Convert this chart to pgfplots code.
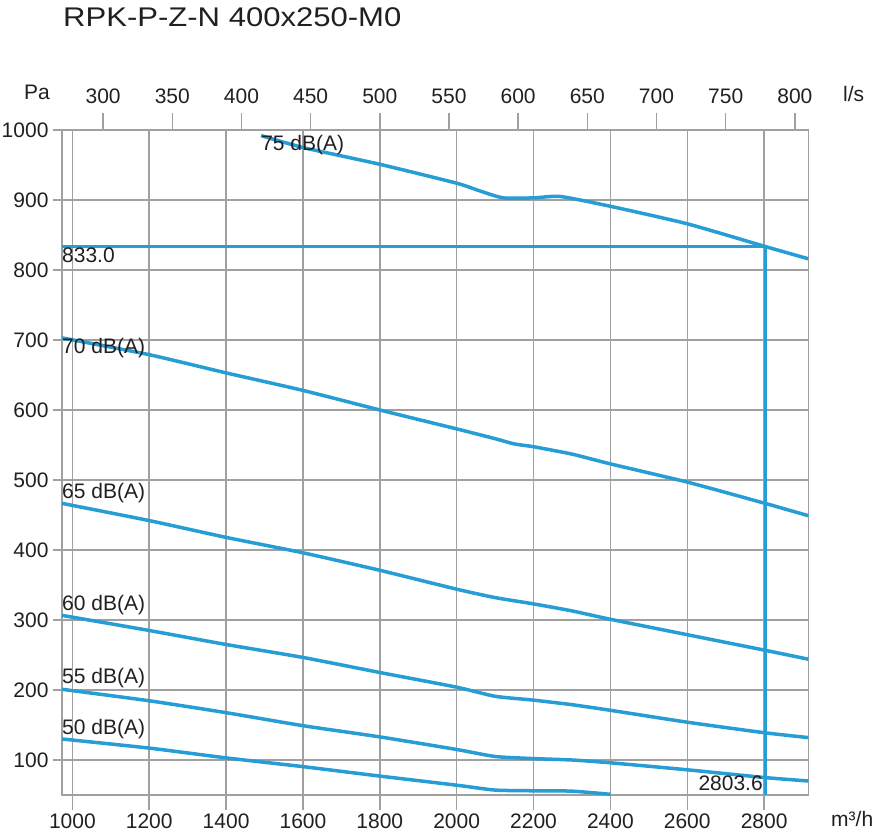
\documentclass[border=0pt]{standalone}
\usepackage{fontspec}
\setmainfont{Liberation Sans}
\usepackage{pgfplots}
\pgfplotsset{compat=1.18}
\definecolor{curve}{RGB}{38,157,212}
\definecolor{gridc}{RGB}{160,160,160}
\definecolor{txt}{RGB}{35,31,32}
\newcommand{\tf}{\fontsize{21}{24}\selectfont}
\tikzset{dbcurve/.style={curve, line width=3.5pt, smooth, tension=0.35, no markers}}
\begin{document}
\begin{tikzpicture}
\path[use as bounding box] (0,0) rectangle (879pt,834pt);
% top axis (l/s)
\begin{axis}[
  at={(62pt,39pt)}, anchor=south west,
  scale only axis, width=746.3pt, height=665pt,
  xmin=270.28, xmax=809.72, ymin=0, ymax=1,
  axis x line*=top, axis y line=none, ytick=\empty,
  xtick={300,350,...,800},
  tick align=outside, major tick length=17pt,
  tick style={gridc, line width=1.5pt},
  axis line style={draw=none},
  ticklabel style={font=\tf, text=txt},
  xticklabel style={yshift=6pt},
  /pgf/number format/assume math mode=true,
  /pgf/number format/1000 sep={},
]
\addplot[draw=none] coordinates {(300,0.5)};
\end{axis}
% main axis
\begin{axis}[
  at={(62pt,39pt)}, anchor=south west,
  scale only axis, width=746.3pt, height=665pt,
  xmin=973, xmax=2915, ymin=50, ymax=1000,
  xtick={1000,1200,...,2800}, ytick={100,200,...,1000},
  xtick pos=lower, ytick pos=left,
  grid=major, grid style={gridc, line width=1.5pt},
  axis line style={gridc, line width=1.5pt},
  tick style={gridc, line width=1.5pt},
  tick align=outside, major tick length=15pt,
  ytick style={/pgfplots/major tick length=9pt},
  ticklabel style={font=\tf, text=txt},
  yticklabel style={xshift=5pt},
  /pgf/number format/assume math mode=true,
  /pgf/number format/1000 sep={},
  clip=false,
]
% 75 dB(A)
\addplot[dbcurve] coordinates {(1491,992) (1600,975) (1800,951) (2000,924) (2060,913) (2121,903) (2200,903) (2270,905) (2400,891) (2600,866) (2800,834) (2915,816)};
% 70 dB(A)
\addplot[dbcurve] coordinates {(973,703) (1200,679) (1400,653) (1600,628) (1800,600) (2000,573) (2100,559) (2150,551.5) (2200,547.5) (2300,537) (2400,523) (2600,497) (2800,467) (2915,449)};
% 65 dB(A)
\addplot[dbcurve] coordinates {(973,466.6) (1200,442) (1400,418) (1600,396) (1800,371) (2000,344) (2100,332) (2200,323) (2300,313) (2400,301) (2600,279) (2800,257) (2915,244)};
% 60 dB(A)
\addplot[dbcurve] coordinates {(973,306.6) (1200,285) (1400,265) (1600,246.5) (1800,225) (2000,204) (2100,191) (2200,185.5) (2300,179) (2400,171) (2600,154) (2800,139) (2915,132)};
% 55 dB(A)
\addplot[dbcurve] coordinates {(973,201) (1200,184.6) (1400,167.6) (1600,149) (1800,133) (2000,115) (2100,105) (2200,102) (2300,100) (2400,96) (2600,86) (2800,75) (2915,70)};
% 50 dB(A)
\addplot[dbcurve] coordinates {(973,130) (1200,117) (1400,103) (1600,90.5) (1800,77) (2000,64) (2100,57) (2200,56) (2300,55.5) (2400,51)};
% operating point
\addplot[curve, line width=3pt, no markers] coordinates {(973,833) (2803.6,833)};
\addplot[curve, line width=3pt, no markers] coordinates {(2803.6,50) (2803.6,833)};
% labels
\begin{scope}[every node/.style={font=\tf, text=txt, inner sep=0pt}]
\node[anchor=base west] at (axis cs:1491,970) {75 dB(A)};
\node[anchor=base west] at (axis cs:973,681) {70 dB(A)};
\node[anchor=base west] at (axis cs:973,473) {65 dB(A)};
\node[anchor=base west] at (axis cs:973,313) {60 dB(A)};
\node[anchor=base west] at (axis cs:973,208.6) {55 dB(A)};
\node[anchor=base west] at (axis cs:973,137) {50 dB(A)};
\node[anchor=base west] at (axis cs:973,810) {833.0};
\node[anchor=base east] at (axis cs:2797,57) {2803.6};
\end{scope}
\end{axis}
\begin{scope}[every node/.style={text=txt, inner sep=0pt}]
\node[anchor=base west, font=\fontsize{27}{30}\selectfont] at (63pt,807pt) {\scalebox{1.15}[1]{RPK-P-Z-N 400x250-M0}};
\node[anchor=base west, font=\tf] at (24pt,734pt) {Pa};
\node[anchor=base west, font=\tf] at (843pt,732pt) {l/s};
\node[anchor=base west, font=\tf] at (831pt,7.3pt) {m³/h};
\end{scope}
\end{tikzpicture}
\end{document}
